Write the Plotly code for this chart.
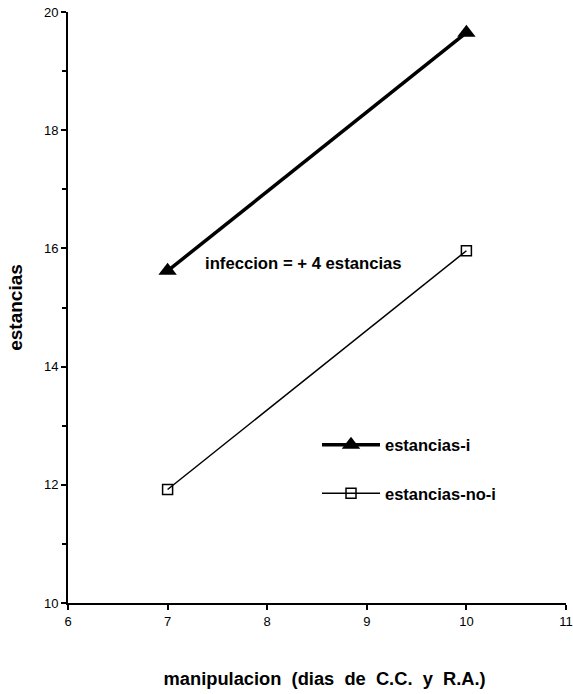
import plotly.graph_objects as go

dias = [7, 10]
estancias_i = [15.62, 19.65]
estancias_no_i = [11.92, 15.96]
serie_i = "estancias-i"
serie_no_i = "estancias-no-i"
nota = "infeccion = + 4 estancias"
x_titulo = "manipulacion  (dias  de  C.C.  y  R.A.)"
y_titulo = "estancias"

FONT = "Liberation Sans, Arial, Helvetica"

fig = go.Figure()
fig.add_trace(go.Scatter(
    x=dias, y=estancias_i, name=serie_i, mode="lines+markers", legendgroup="a",
    line=dict(color="black", width=3.5),
    marker=dict(symbol="triangle-up", size=16, color="black"),
))
fig.add_trace(go.Scatter(
    x=dias, y=estancias_no_i, name=serie_no_i, mode="lines+markers", legendgroup="b",
    line=dict(color="black", width=1.5),
    marker=dict(symbol="square-open", size=10, color="black", line=dict(width=1.5)),
))

fig.add_annotation(x=7.36, y=15.75, text="<b>" + nota + "</b>", showarrow=False,
                   xanchor="left", yanchor="middle",
                   font=dict(family=FONT, size=16.7, color="black"))

fig.update_layout(
    width=573, height=694,
    margin=dict(l=68, r=7, t=12, b=91),
    paper_bgcolor="white", plot_bgcolor="white",
    font=dict(family=FONT, color="black", size=13),
    showlegend=True,
    legend=dict(x=0.5, y=0.297, xanchor="left", yanchor="top",
                font=dict(size=16.5, family=FONT, color="black", weight="bold"),
                itemwidth=58, tracegroupgap=24, bgcolor="rgba(0,0,0,0)"),
    xaxis=dict(range=[6, 11], dtick=1, tick0=6, showgrid=False, zeroline=False,
               showline=True, linecolor="black", linewidth=2, automargin=False,
               ticks="outside", ticklen=5, tickwidth=1.5, tickcolor="black",
               tickfont=dict(size=13),
               title=dict(text="&nbsp;&nbsp;&nbsp;<b>" + x_titulo + "</b>", standoff=45,
                          font=dict(size=18.3))),
    yaxis=dict(range=[10, 20], dtick=2, tick0=10, showgrid=False, zeroline=False,
               showline=True, linecolor="black", linewidth=2, automargin=False,
               ticks="outside", ticklen=5, tickwidth=1.5, tickcolor="black",
               tickfont=dict(size=13),
               minor=dict(dtick=1, ticks="outside", ticklen=4, tickwidth=1.5, tickcolor="black", showgrid=False),
               title=dict(text="<b>" + y_titulo + "</b>", standoff=16,
                          font=dict(size=19))),
)

fig.write_html("out.html")
